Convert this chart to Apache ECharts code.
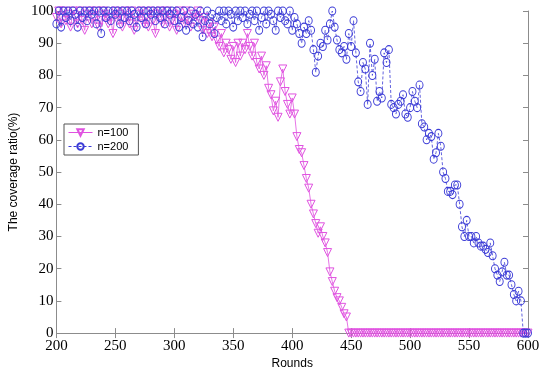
<!DOCTYPE html>
<html>
<head>
<meta charset="utf-8">
<script src="https://cdn.jsdelivr.net/npm/echarts@6/dist/echarts.min.js"></script>
<style>html,body{margin:0;padding:0;background:#fff}#c{width:550px;height:375px}</style>
</head>
<body>
<div id="c"></div>
<script>
const rounds = [
200,202,204,206,208,210,212,214,216,218,
220,222,224,226,228,230,232,234,236,238,
240,242,244,246,248,250,252,254,256,258,
260,262,264,266,268,270,272,274,276,278,
280,282,284,286,288,290,292,294,296,298,
300,302,304,306,308,310,312,314,316,318,
320,322,324,326,328,330,332,334,336,338,
340,342,344,346,348,350,352,354,356,358,
360,362,364,366,368,370,372,374,376,378,
380,382,384,386,388,390,392,394,396,398,
400,402,404,406,408,410,412,414,416,418,
420,422,424,426,428,430,432,434,436,438,
440,442,444,446,448,450,452,454,456,458,
460,462,464,466,468,470,472,474,476,478,
480,482,484,486,488,490,492,494,496,498,
500,502,504,506,508,510,512,514,516,518,
520,522,524,526,528,530,532,534,536,538,
540,542,544,546,548,550,552,554,556,558,
560,562,564,566,568,570,572,574,576,578,
580,582,584,586,588,590,592,594,596,598,
600];

const n100 = [
98,100,96,100,97,99,95,100,98,96,
100,97,94,99,100,96,98,100,95,97,
100,99,96,98,93,100,97,99,95,100,
98,96,100,94,97,99,100,96,98,95,
100,97,93,99,100,96,98,100,95,97,
99,94,100,98,96,100,97,95,99,98,
100,97,94,98,93,96,92,95,91,89,
93,87,90,88,85,89,84,90,86,90,
88,93,89,86,90,84,82,86,80,83,
76,74,69,72,67,78,82,75,71,68,
73,68,61,57,56,52,48,45,40,37,
34,31,33,30,28,25,19,16,13,11,
10,8,6,5,0,0,0,0,0,0,
0,0,0,0,0,0,0,0,0,0,
0,0,0,0,0,0,0,0,0,0,
0,0,0,0,0,0,0,0,0,0,
0,0,0,0,0,0,0,0,0,0,
0,0,0,0,0,0,0,0,0,0,
0,0,0,0,0,0,0,0,0,0,
0,0,0,0,0,0,0,0,0,0,
0];

const n200 = [
96,100,95,100,98,100,97,100,99,95,
100,98,100,97,100,99,100,96,100,93,
100,98,100,97,100,99,100,96,100,98,
100,97,100,99,95,100,98,100,96,100,
99,100,97,100,98,100,96,100,99,100,
97,100,95,98,100,94,97,100,96,99,
95,100,92,97,100,96,99,93,98,100,
97,100,96,100,99,95,100,97,100,98,
100,96,99,100,97,100,94,98,100,96,
100,99,97,94,100,98,100,97,96,100,
94,98,96,93,90,95,93,97,94,88,
81,86,90,89,94,91,96,100,95,91,
88,87,89,85,93,89,97,87,78,75,
84,82,71,90,80,85,72,75,73,87,
84,88,71,70,68,71,72,74,68,67,
70,75,72,70,77,65,64,60,62,61,
54,56,62,58,50,48,44,44,43,46,
46,40,33,30,35,30,30,28,30,28,
27,27,26,25,28,24,20,18,16,19,
22,18,18,15,12,10,13,10,0,0,
0];

const xTicks = [200,250,300,350,400,450,500,550,600];
const yTicks = [0,10,20,30,40,50,60,70,80,90,100];

const pink = '#e052e0';
const blue = '#3b3bd6';
const axisGrey = '#8c8c8c';
const serif = 'Times New Roman, Liberation Serif, serif';
const sans = 'Arial, Liberation Sans, sans-serif';

const chart = echarts.init(document.getElementById('c'), null, {renderer: 'canvas'});

const baseX = {
  type: 'value', min: xTicks[0], max: xTicks[xTicks.length-1], interval: 50,
  axisLine: {show: true, lineStyle: {color: axisGrey, width: 1}},
  axisTick: {show: true, inside: true, length: 5, lineStyle: {color: axisGrey}},
  splitLine: {show: false}
};
const baseY = {
  type: 'value', min: yTicks[0], max: yTicks[yTicks.length-1], interval: 10,
  axisLine: {show: true, lineStyle: {color: axisGrey, width: 1}},
  axisTick: {show: true, inside: true, length: 5, lineStyle: {color: axisGrey}},
  splitLine: {show: false}
};

chart.setOption({
  animation: false,
  backgroundColor: '#fff',
  grid: {left: 50, right: 22, top: 11, bottom: 34, containLabel: false},
  legend: {
    show: true,
    left: 64, top: 124,
    orient: 'vertical',
    itemGap: 3,
    itemWidth: 24, itemHeight: 8,
    padding: [3, 10, 3, 4],
    borderColor: '#555', borderWidth: 1,
    backgroundColor: '#fff',
    lineStyle: {width: 1},
    textStyle: {fontFamily: sans, fontSize: 11, color: '#000'},
    data: ['n=100', 'n=200']
  },
  xAxis: [
    Object.assign({}, baseX, {
      position: 'bottom',
      name: 'Rounds', nameLocation: 'middle', nameGap: 23,
      nameTextStyle: {fontFamily: sans, fontSize: 12, color: '#000'},
      axisLabel: {show: true, margin: 5, fontFamily: serif, fontSize: 15, color: '#000'}
    }),
    Object.assign({}, baseX, {position: 'top', axisLabel: {show: false}})
  ],
  yAxis: [
    Object.assign({}, baseY, {
      position: 'left',
      name: 'The coverage ratio(%)', nameLocation: 'middle', nameGap: 32,
      nameTextStyle: {fontFamily: sans, fontSize: 12, color: '#000'},
      axisLabel: {show: true, margin: 3, fontFamily: serif, fontSize: 15, color: '#000'}
    }),
    Object.assign({}, baseY, {position: 'right', axisLabel: {show: false}})
  ],
  series: [
    {
      name: 'n=100', type: 'line', xAxisIndex: 0, yAxisIndex: 0,
      data: rounds.map((r, i) => [r, n100[i]]),
      symbol: 'triangle', symbolRotate: 180, symbolSize: [8, 8], showAllSymbol: true,
      clip: false,
      lineStyle: {color: pink, width: 0.8},
      itemStyle: {color: 'rgba(255,255,255,0)', borderColor: pink, borderWidth: 1}
    },
    {
      name: 'n=200', type: 'line', xAxisIndex: 0, yAxisIndex: 0,
      data: rounds.map((r, i) => [r, n200[i]]),
      symbol: 'circle', symbolSize: [7, 8], showAllSymbol: true,
      clip: false,
      lineStyle: {color: blue, width: 0.8, type: [3, 2]},
      itemStyle: {color: 'rgba(255,255,255,0)', borderColor: blue, borderWidth: 1}
    }
  ]
});
</script>
</body>
</html>
